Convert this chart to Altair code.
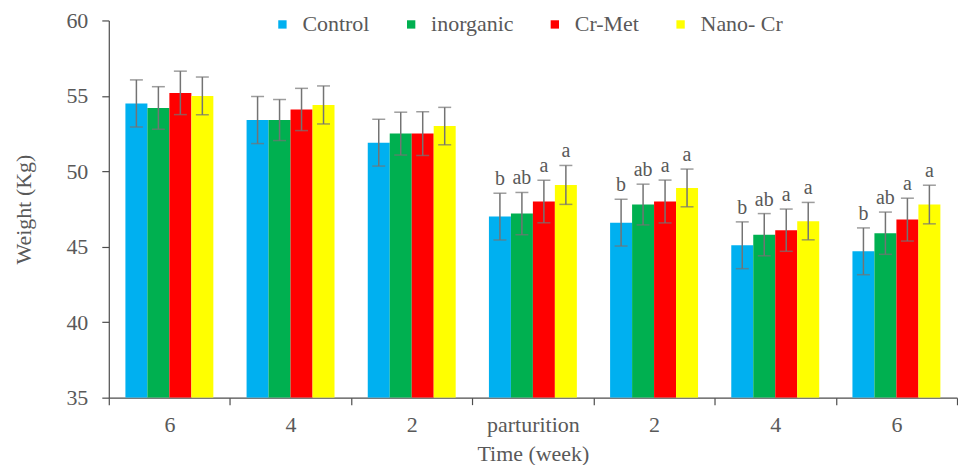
import json
import altair as alt
import pandas as pd

# ---- data ----
categories = ["6", "4", "2", "parturition", "2", "4", "6"]
series = ["Control", "inorganic", "Cr-Met", "Nano- Cr"]
colors = ["#00B0F0", "#00B050", "#FF0000", "#FFFF00"]

control_mean = [54.5, 53.4, 51.9, 47.0, 46.6, 45.1, 44.7]
inorganic_mean = [54.2, 53.4, 52.5, 47.2, 47.8, 45.8, 45.9]
crmet_mean = [55.2, 54.1, 52.5, 48.0, 48.0, 46.1, 46.8]
nano_mean = [55.0, 54.4, 53.0, 49.1, 48.9, 46.7, 47.8]

control_sd = [1.56, 1.56, 1.55, 1.55, 1.55, 1.55, 1.55]
inorganic_sd = [1.41, 1.36, 1.42, 1.40, 1.35, 1.40, 1.40]
crmet_sd = [1.44, 1.40, 1.45, 1.41, 1.42, 1.40, 1.42]
nano_sd = [1.25, 1.26, 1.24, 1.29, 1.25, 1.24, 1.28]

control_letter = ["", "", "", "b", "b", "b", "b"]
inorganic_letter = ["", "", "", "ab", "ab", "ab", "ab"]
crmet_letter = ["", "", "", "a", "a", "a", "a"]
nano_letter = ["", "", "", "a", "a", "a", "a"]

means = [control_mean, inorganic_mean, crmet_mean, nano_mean]
sds = [control_sd, inorganic_sd, crmet_sd, nano_sd]
letters = [control_letter, inorganic_letter, crmet_letter, nano_letter]

rows = []
for s, m_list, sd_list, l_list in zip(series, means, sds, letters):
    for i, (m, sd, l) in enumerate(zip(m_list, sd_list, l_list)):
        rows.append({"idx": i, "series": s, "mean": m,
                     "lo": m - sd, "hi": m + sd, "letter": l})
df = pd.DataFrame(rows)

FONT = "Liberation Serif"
GREY = "#595959"
label_expr = json.dumps(categories) + "[datum.value]"

x_enc = alt.X(
    "idx:O",
    scale=alt.Scale(paddingInner=0, paddingOuter=0),
    axis=alt.Axis(
        title="Time (week)", labelExpr=label_expr, labelAngle=0,
        tickBand="extent", tickSize=7, labelPadding=10, titlePadding=8,
    ),
)
xoff = alt.XOffset("series:N", sort=series,
                   scale=alt.Scale(paddingInner=0, paddingOuter=0.756))
y_scale = alt.Scale(domain=[35, 60], nice=False, zero=False)
y_axis = alt.Axis(title="Weight (Kg)", values=[35, 40, 45, 50, 55, 60],
                  tickSize=7, labelPadding=14, titlePadding=30, grid=False)

base = alt.Chart(df)

bars = base.mark_bar(clip=True).encode(
    x=x_enc, xOffset=xoff,
    y=alt.Y("mean:Q", scale=y_scale, axis=y_axis),
    y2=alt.datum(35),
    color=alt.Color(
        "series:N", sort=series,
        scale=alt.Scale(domain=series, range=colors),
        legend=alt.Legend(
            title=None, orient="none", direction="horizontal",
            legendX=163, legendY=-7, symbolType="square", symbolSize=70,
            symbolStrokeWidth=0, labelFont=FONT, labelFontSize=22,
            labelColor=GREY, columnPadding=30, labelOffset=9,
        ),
    ),
)

rules = base.mark_rule(color="#737373", strokeWidth=1.5).encode(
    x=x_enc, xOffset=xoff,
    y=alt.Y("lo:Q", scale=y_scale), y2="hi:Q",
)
caps_hi = base.mark_tick(color="#737373", thickness=1.5, size=13).encode(
    x=x_enc, xOffset=xoff, y=alt.Y("hi:Q", scale=y_scale),
)
caps_lo = base.mark_tick(color="#737373", thickness=1.5, size=13).encode(
    x=x_enc, xOffset=xoff, y=alt.Y("lo:Q", scale=y_scale),
)
texts = base.mark_text(font=FONT, fontSize=20, color=GREY,
                       baseline="alphabetic", dy=-8).encode(
    x=x_enc, xOffset=xoff, y=alt.Y("hi:Q", scale=y_scale), text="letter:N",
)

chart = (
    alt.layer(bars, rules, caps_hi, caps_lo, texts)
    .properties(width=850, height=378,
                padding={"left": 5, "top": 1, "right": 0, "bottom": 0})
    .configure(font=FONT)
    .configure_view(stroke=None)
    .configure_axis(
        labelFont=FONT, titleFont=FONT, labelFontSize=22, titleFontSize=22,
        labelColor=GREY, titleColor=GREY, titleFontWeight="normal",
        domainColor="#4d4d4d", tickColor="#4d4d4d", domainWidth=1.2, tickWidth=1.2,
    )
    .configure_legend(labelFont=FONT, labelFontSize=22, labelColor=GREY)
)

chart.save("out.html", embed_options={"renderer": "svg", "actions": False})
